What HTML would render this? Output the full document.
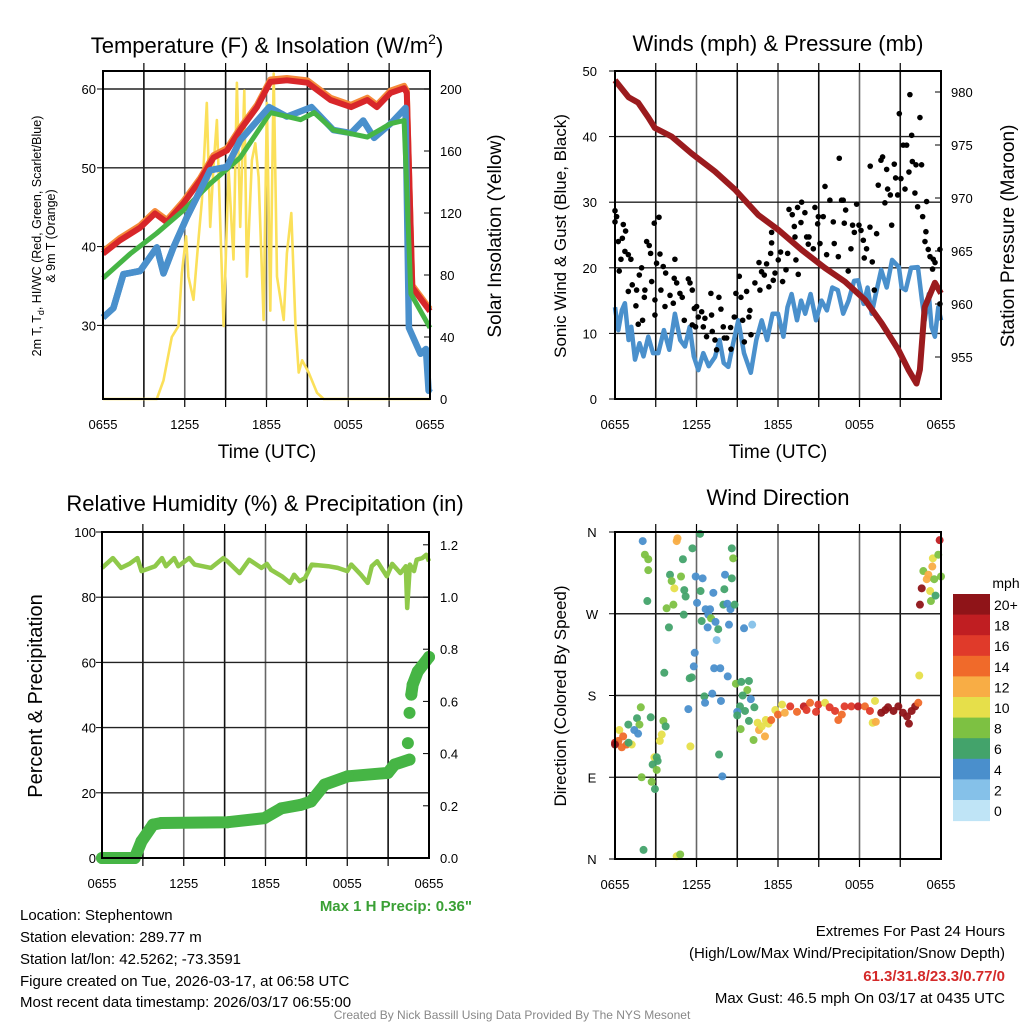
<!DOCTYPE html>
<html><head><meta charset="utf-8"><style>
html,body{margin:0;padding:0;background:#fff;}
svg{display:block;font-family:"Liberation Sans",Arial,sans-serif;}
</style></head><body>
<svg id="chart" width="1024" height="1024" viewBox="0 0 1024 1024" xmlns="http://www.w3.org/2000/svg">
<rect x="0" y="0" width="1024" height="1024" fill="#fff"/>
<g id="p1"></g>
<g id="p2"></g>
<g id="p3"></g>
<g id="p4"></g>
<g id="txt">
<text x="267" y="53" font-size="22" text-anchor="middle">Temperature (F) &amp; Insolation (W/m<tspan font-size="14" dy="-9">2</tspan><tspan dy="9">)</tspan></text>
<text x="778" y="51" font-size="22" text-anchor="middle">Winds (mph) &amp; Pressure (mb)</text>
<text x="265" y="511" font-size="22" text-anchor="middle">Relative Humidity (%) &amp; Precipitation (in)</text>
<text x="778" y="505" font-size="22" text-anchor="middle">Wind Direction</text>
<text x="267" y="458" font-size="19" text-anchor="middle">Time (UTC)</text>
<text x="778" y="458" font-size="19" text-anchor="middle">Time (UTC)</text>
<text transform="translate(41,236) rotate(-90)" font-size="12.5" text-anchor="middle">2m T, T<tspan font-size="9" dy="3">d</tspan><tspan dy="-3">, HI/WC (Red, Green, Scarlet/Blue)</tspan></text>
<text transform="translate(55,236) rotate(-90)" font-size="12.5" text-anchor="middle">&amp; 9m T (Orange)</text>
<text transform="translate(501,236) rotate(-90)" font-size="19" text-anchor="middle">Solar Insolation (Yellow)</text>
<text transform="translate(566,236) rotate(-90)" font-size="17" text-anchor="middle">Sonic Wind &amp; Gust (Blue, Black)</text>
<text transform="translate(1014,236) rotate(-90)" font-size="19" text-anchor="middle">Station Pressure (Maroon)</text>
<text transform="translate(42,696) rotate(-90)" font-size="20" text-anchor="middle">Percent &amp; Precipitation</text>
<text transform="translate(566,696) rotate(-90)" font-size="17" text-anchor="middle">Direction (Colored By Speed)</text>
<text x="472" y="911" font-size="15" font-weight="bold" fill="#3aa035" text-anchor="end">Max 1 H Precip: 0.36"</text>
<g font-size="15">
<text x="20" y="920">Location: Stephentown</text>
<text x="20" y="942">Station elevation: 289.77 m</text>
<text x="20" y="964">Station lat/lon: 42.5262; -73.3591</text>
<text x="20" y="986">Figure created on Tue, 2026-03-17, at 06:58 UTC</text>
<text x="20" y="1007">Most recent data timestamp: 2026/03/17 06:55:00</text>
</g>
<g font-size="15" text-anchor="end">
<text x="1005" y="936">Extremes For Past 24 Hours</text>
<text x="1005" y="958">(High/Low/Max Wind/Precipitation/Snow Depth)</text>
<text x="1005" y="981" font-weight="bold" fill="#d42a2a">61.3/31.8/23.3/0.77/0</text>
<text x="1005" y="1003">Max Gust: 46.5 mph On 03/17 at 0435 UTC</text>
</g>
<text x="512" y="1019" font-size="12" fill="#888" text-anchor="middle">Created By Nick Bassill Using Data Provided By The NYS Mesonet</text>
</g>
</svg>
<script>
// ---------- Panel 1 data ----------
const redH=[0,1.25,2.72,3.82,4.68,5.91,7.13,8.11,9.1,10.07,11.3,12.28,13.5,15,16.7,18.2,19.4,20.1,21.1,22.1,22.3,22.7,24];
const redV=[39.1,40.8,42.4,44.2,43.1,45.5,48.4,51.3,52.2,54.8,57.7,60.9,61.1,60.8,58.6,57.7,58.6,57.7,59.5,60.1,59.5,34.8,31.8];
const greenH=[0,2,3.95,5.9,7.87,10.07,12.28,14.5,15.5,16.9,19.4,21.1,22.1,22.6,24];
const greenV=[36.0,39.1,41.7,44.6,48,51.3,57,56.1,57,54.8,53.9,55.6,56,34,29.7];
const blueH=[0,0.76,1.5,2.72,3.95,4.44,5.17,6.15,7.87,9.1,10.07,12.2,13.5,15.3,16.9,18.2,19.1,19.9,21.1,22.2,22.45,23.3,23.7,23.9,24];
const blueV=[31,32.2,36.5,36.9,39.9,36.6,39.9,43.7,49.7,50.1,53.5,57.7,56.5,57.7,54.8,54.4,56,53.8,55.6,57.6,29.7,26.4,27,21.7,22];
const solH=[0,3.95,4.44,5.05,5.54,5.78,6.1,6.27,6.64,7.01,7.26,7.62,7.87,8.11,8.36,8.85,9.22,9.58,9.83,10.07,10.37,10.56,10.93,11.18,11.42,11.79,12.03,12.28,12.53,12.77,13.26,13.5,13.82,14.12,14.36,14.61,15.1,15.71,16.2,24];
const solV=[0,0,12,40,47,81,105,79,64,103,128,191,111,150,180,47,148,90,204,111,199,79,154,165,143,51,191,57,210,79,51,94,120,49,17,25,17,4,0,0];
const xTickLabels=["0655","1255","1855","0055","0655"];
const tempTicks=[60,50,40,30];
const solTicks=[200,160,120,80,40,0];
// ---------- Panel 2 data ----------
const presH=[0,1.0,1.7,2.45,2.94,4.17,5.64,7.36,8.83,10.55,12.02,13.74,15.46,16.93,18.4,19.63,20.86,21.6,22.2,22.45,22.8,23.55,24];
const presV=[981.1,979.5,979,977.6,976.6,975.8,974.2,972.5,970.8,968.4,967,965.1,963.4,962.1,960.4,958.2,955.7,953.8,952.5,953.8,959.7,962,961];
const windH=[0,0.24,0.5,0.73,1.0,1.2,1.47,1.8,2.1,2.45,2.8,3.19,3.6,4.0,4.41,4.8,5.15,5.5,5.8,6.13,6.5,6.9,7.36,7.7,8.0,8.34,8.7,9.08,9.5,10,10.4,10.8,11.2,11.6,12,12.4,12.7,13,13.4,13.7,14,14.4,14.8,15.2,15.6,16.0,16.4,16.8,17.2,17.6,17.9,18.3,18.6,18.9,19.2,19.6,20.0,20.4,20.9,21.1,21.4,21.8,22.3,22.6,22.8,23.1,23.3,23.55,23.8,24];
const windV=[14,10.5,13.5,14.6,9,11,6,8.5,6.5,9.5,7,7,10.5,7.5,13,9,8,11,6.5,4.4,7,5,6.4,9,5.5,4.9,8.5,12,7,4,9,12,9,13,13,9.5,14,16,12,15,13,16,12,15,13.5,17,16.6,13,15,18,18.1,14.5,17,13,16,19.7,17,21.2,20.1,17,16.6,20,20.1,15,12,16,11,9.5,14,12];
const gustH=[0,0.12,0.0,0.61,0.78,0.24,0.54,0.73,0.98,0.44,1.17,0.31,1.79,1.96,1.27,0.98,1.59,1.54,1.71,2.03,2.2,2.16,2.7,2.33,2.52,2.89,3.24,2.62,3.31,3.06,3.55,3.73,3.38,2.94,2.94,3.68,4.05,4.29,4.41,4.36,4.54,4.78,4.95,5.1,5.4,5.52,5.69,5.84,6.01,5.69,5.93,6.13,6.5,6.38,6.62,6.74,7.06,7.11,7.16,7.36,7.48,7.65,7.8,7.97,8.05,8.22,8.51,8.54,8.78,8.9,9.15,9.27,9.4,9.52,9.69,9.86,10.01,9.93,10.3,10.6,10.67,10.79,10.99,11.16,11.33,11.53,11.46,11.53,11.65,11.78,12.02,12.19,12.34,12.59,12.71,12.81,13.05,13.2,13.25,13.32,13.49,13.44,13.69,13.74,13.98,14.11,14.23,14.28,14.6,14.72,14.92,14.97,15.09,15.33,15.46,15.58,15.82,16.07,16.14,16.44,16.51,16.68,16.8,16.88,16.98,17.17,17.37,17.49,17.62,17.79,17.96,18.11,18.28,18.35,18.52,18.77,18.79,18.94,19.09,19.26,19.38,19.58,19.7,19.87,20,20.07,20.27,20.37,20.56,20.66,20.81,20.93,21.05,21.22,21.35,21.47,21.64,21.71,21.84,21.89,22.08,22.16,22.28,22.45,22.57,22.65,22.89,22.94,22.82,23.06,23.19,23.43,23.56,23.38,23.92,23.92];
const gustV=[28.7,27.8,27,26.6,25.6,24,24.5,22.5,22,21.3,21.3,19.5,18.9,20,17.4,16.4,16.6,14.2,11.4,12,16.6,15.5,17.9,24,23.4,26.8,27.7,22.2,22.1,20.7,20.2,19.2,16.6,15.1,12.8,14.1,15.8,14.6,21.3,18.4,17.7,16.1,15.5,12,18.3,17.7,16.6,13.8,14.1,11.3,11,12.5,11,13.3,12.3,9.5,16.1,12.8,10.3,9,7.5,15.5,13.7,11,9.3,9.3,10.9,7.6,12.5,16.1,18.7,15.5,12,8.7,16.4,12.5,9.8,13.5,17.7,20.8,16.6,19.4,18.9,20.6,17.1,23.8,22.2,25.4,18.1,19.2,21.2,22.4,17.9,19.7,22.2,28.9,28.1,26.3,24.7,21.2,19,29.2,26.9,30,28.4,24.7,23.6,24.7,22.9,29.2,26.7,27.8,23.7,27.8,32.4,22,30.3,27,23.7,21.7,36.7,30.3,30.3,26.8,28.8,19.5,22.9,26.5,25.4,29.7,26.5,25.7,24.2,21.5,22.9,26.2,35.5,20.9,16.6,25.2,32.6,36.4,36.9,29.9,35,32,31.1,26.5,35.8,33.7,31.1,43.5,33.6,38.7,32,38.7,34.6,46.4,40.2,36.2,31.4,35.7,29.3,42.9,35.7,27.8,25.5,30.1,24,22.8,21.7,21.3,20.8,19.8,22.8,14.5];
const windTicks=[50,40,30,20,10,0];
const presTicks=[980,975,970,965,960,955];
// ---------- Panel 3 data ----------
const rhH=[0,0.8,1.4,2,2.6,2.9,3.9,4.4,4.7,5.3,5.6,6.4,6.8,8,8.9,9.2,10.1,10.8,11.7,12.1,12.4,13.2,13.8,14.1,14.5,14.9,15.4,16.6,17.3,18,18.3,19,19.5,19.8,20.2,20.9,21.3,21.9,22.3,22.4,22.6,22.9,23.1,23.5,23.8,24];
const rhV=[89,92,89,90.2,92,88,89.5,92,89.5,92,89.5,92,90,89,92,91,87.4,91.5,89,90.2,88.4,86.4,84.4,86.9,84.9,85.9,90,89.5,89,88,90,86.9,84.4,89.5,91,86.4,90.2,87.4,89.5,76.7,90,88,91.5,92,93,91];
const prH=[0,2.4,2.9,3.74,4.35,9.24,11.93,13.15,14.6,15.35,16.33,18.04,20.98,21.47,22.57,22.45,22.57,22.7,22.8,23.18,24];
const prV=[0,0,0.064,0.128,0.134,0.137,0.153,0.19,0.204,0.217,0.281,0.313,0.326,0.358,0.377,0.44,0.556,0.626,0.664,0.715,0.77];
const pctTicks=[100,80,60,40,20,0];
const prTicks=["1.2","1.0","0.8","0.6","0.4","0.2","0.0"];
// ---------- Panel 4 data ----------
const dirH=[2.04,4.6,4.54,6.26,2.2,2.45,2.45,5.7,8.6,8.7,5.0,4.05,4.17,4.37,4.86,5.94,6.45,8.1,8.6,8.05,5.1,5.2,6.3,7.24,2.38,3.8,4.3,6.04,6.67,7.0,7.98,8.27,8.5,8.8,5.06,6.87,7.07,6.38,7.4,6.82,7.6,8.39,9.5,10.1,7.48,3.97,5.87,5.8,7.3,7.75,8.3,3.63,5.5,5.65,8.9,9.3,9.86,9.74,9.4,10,6.58,7.16,6.63,7.8,5.4,9.2,9.57,10.26,1.9,2.63,1.62,0.98,1.8,1.42,1.7,0.32,3.56,3.73,3.44,3.3,0,0.25,0.6,0.86,0.5,1.23,1.0,0,5.55,2.9,3.07,2.77,3.14,3.07,1.96,2.7,2.94,7.66,7.9,9.0,9.0,9.25,9.86,10.2,10.5,10.6,11.04,10.8,11.1,11.3,11.5,11.8,12.0,12.3,12.5,12.9,13.4,13.9,14.1,14.36,14.8,14.97,15.46,15.8,16.2,16.44,16.7,16.9,17.4,17.9,18.4,18.77,19.14,18.97,19.2,19.6,19.9,20.1,20.5,20.86,21.2,21.5,21.64,21.84,22.1,22.33,22.4,22.45,22.58,22.7,22.95,23.07,23.2,23.26,23.36,23.4,23.6,23.5,23.8,23.9,24,2.1,4.54,4.8];
const dirV=[350,353,350,358,335,330,318,342,342,331,330,313,306,298,311,311,309,313,309,297,296,289,295,293,284,276,280,282,275,275,280,281,275,280,269,269,265,262,261,255,253,258,254,258,241,255,227,212,210,210,201,205,199,200,193,195,196,186,180,176,179,182,172,174,165,168,163,167,167,156,155,148,148,142,138,142,152,146,137,130,128,130,135,126,123,126,128,126,124,112,112,104,108,98,90,85,77,115,91,162,158,143,152,131,150,142,135,146,153,149,153,164,159,170,161,168,162,168,164,172,162,170,172,167,163,153,159,168,168,168,168,163,174,150,151,161,164,167,163,168,161,157,149,163,168,172,202,280,298,317,308,313,295,284,322,331,290,308,335,351,311,10,3,5];
const dirSpd=[4,12,12,6,8,8,8,6,6,8,6,6,8,10,8,4,4,4,6,6,6,6,6,4,6,8,8,4,4,4,6,4,4,6,6,4,8,6,4,4,6,4,4,2,2,6,4,4,4,4,4,6,6,6,8,6,6,8,6,4,6,4,4,4,4,6,6,6,8,6,6,6,8,4,4,10,8,6,10,10,18,14,14,14,14,10,6,20,10,10,6,6,6,8,8,8,6,6,4,4,6,8,6,8,10,12,12,10,10,10,14,10,14,10,12,16,14,18,16,14,16,16,10,16,16,14,14,16,16,18,14,16,10,10,12,20,20,20,20,20,20,20,20,20,20,14,10,20,20,8,12,12,10,8,12,10,6,8,8,18,8,6,10,8];
const legendLabels=["20+","18","16","14","12","10","8","6","4","2","0"];
const dirTickLabels=["N","W","S","E","N"];

const NS="http://www.w3.org/2000/svg";
function mk(parent,tag,attrs){const e=document.createElementNS(NS,tag);for(const k in attrs)e.setAttribute(k,attrs[k]);parent.appendChild(e);return e;}
function spdColor(s){const c=["#bfe4f6","#85c1e9","#4a8fcc","#43a36b","#7dc142","#e6df4a","#f8ad45","#f06a2a","#e03a2a","#c01e22","#8f1418"];let i=Math.round(s/2);if(i<0)i=0;if(i>10)i=10;return c[i];}
function pathFrom(H,V,xf,yf){let d="";for(let i=0;i<H.length;i++){d+=(i?"L":"M")+xf(H[i]).toFixed(1)+","+yf(V[i]).toFixed(1);}return d;}

function frame(g,x0,x1,y0,y1,hy,name){
  const step=(x1-x0)/8;
  for(let i=1;i<8;i++){const x=x0+i*step;
    const l=mk(g,"line",{x1:x,x2:x,y1:y0,y2:y1,stroke:(i%2?"#111":"#666"),"stroke-width":1.6});
    
    
    mk(g,"line",{x1:x,x2:x,y1:y0-8,y2:y0,stroke:"#000","stroke-width":1.2});
    mk(g,"line",{x1:x,x2:x,y1:y1,y2:y1+8,stroke:"#000","stroke-width":1.2});
  }
  hy.forEach(y=>{const l=mk(g,"line",{x1:x0,x2:x1,y1:y,y2:y,stroke:"#222","stroke-width":1.4});
    
    });
  xTickLabels.forEach((t,i)=>{const tx=mk(g,"text",{x:x0+i*step*2,y:y1+30,"font-size":13,"text-anchor":"middle"});tx.textContent=t;
    
    });
}
function box(g,x0,x1,y0,y1){const r=mk(g,"rect",{x:x0,y:y0,width:x1-x0,height:y1-y0,fill:"none",stroke:"#000","stroke-width":2});
  
  }
function label(g,x,y,t,anchor,name,size){const e=mk(g,"text",{x:x,y:y,"font-size":size||13,"text-anchor":anchor});e.textContent=t;
  
  return e;}

// ---------- Panel 1 ----------
(function(){
  const g=document.getElementById("p1");const x0=103,x1=430,y0=71,y1=399;
  const X=h=>x0+h*(x1-x0)/24, TY=v=>89+(60-v)*7.88, SY=v=>399-v*1.55;
  frame(g,x0,x1,y0,y1,tempTicks.map(TY),"t");
  tempTicks.forEach(v=>{label(g,96,TY(v)+5,String(v),"end","temp-tick-label");mk(g,"line",{x1:x0-6,x2:x0,y1:TY(v),y2:TY(v),stroke:"#000"});});
  solTicks.forEach(v=>{label(g,440,SY(v)+5,String(v),"start","insolation-tick-label");mk(g,"line",{x1:x1-6,x2:x1,y1:SY(v),y2:SY(v),stroke:"#000"});});
  const s=mk(g,"path",{d:pathFrom(solH,solV,X,SY),fill:"none",stroke:"#fbe05a","stroke-width":2.6,"stroke-linejoin":"round"});
  
  
  const o=mk(g,"path",{d:pathFrom(redH,redV.map(v=>v+0.3),X,TY),fill:"none",stroke:"#f58a3a","stroke-width":6,"stroke-linejoin":"round"});
  
  
  const r=mk(g,"path",{d:pathFrom(redH,redV,X,TY),fill:"none",stroke:"#d8262a","stroke-width":6,"stroke-linejoin":"round"});
  
  
  const b=mk(g,"path",{d:pathFrom(blueH,blueV,X,TY),fill:"none",stroke:"#4a90cc","stroke-width":6.5,"stroke-linejoin":"round"});
  
  
  const gr=mk(g,"path",{d:pathFrom(greenH,greenV,X,TY),fill:"none",stroke:"#46b545","stroke-width":5,"stroke-linejoin":"round"});
  
  
  const b2=mk(g,"path",{d:pathFrom(blueH.slice(0,12),blueV.slice(0,12),X,TY),fill:"none",stroke:"#4a90cc","stroke-width":6.5,"stroke-linejoin":"round"});
  
  
  box(g,x0,x1,y0,y1);
})();

// ---------- Panel 2 ----------
(function(){
  const g=document.getElementById("p2");const x0=615,x1=941,y0=71,y1=399;
  const X=h=>x0+h*(x1-x0)/24, WY=v=>399-v*6.56, PY=p=>92+(980-p)*10.6;
  frame(g,x0,x1,y0,y1,[40,30,20,10].map(WY),"w");
  windTicks.forEach(v=>{label(g,597,WY(v)+5,String(v),"end","wind-tick-label");mk(g,"line",{x1:x0-6,x2:x0,y1:WY(v),y2:WY(v),stroke:"#000"});});
  presTicks.forEach(v=>{label(g,951,PY(v)+5,String(v),"start","pressure-tick-label");mk(g,"line",{x1:x1-6,x2:x1,y1:PY(v),y2:PY(v),stroke:"#000"});});
  const w=mk(g,"path",{d:pathFrom(windH,windV,X,WY),fill:"none",stroke:"#4a90cc","stroke-width":4.5,"stroke-linejoin":"round"});
  
  
  const p=mk(g,"path",{d:pathFrom(presH,presV,X,PY),fill:"none",stroke:"#9b1b1e","stroke-width":6,"stroke-linejoin":"round"});
  
  
  for(let i=0;i<gustH.length;i++){
    const c=mk(g,"circle",{cx:X(gustH[i]),cy:WY(gustV[i]),r:2.8,fill:"#000"});
    
    
  }
  box(g,x0,x1,y0,y1);
})();

// ---------- Panel 3 ----------
(function(){
  const g=document.getElementById("p3");const x0=102,x1=429,y0=532,y1=858;
  const X=h=>x0+h*(x1-x0)/24, RY=v=>858-v*3.26, PRY=v=>858-v*261;
  frame(g,x0,x1,y0,y1,[80,60,40,20].map(RY),"rh");
  pctTicks.forEach(v=>{label(g,96,RY(v)+5,String(v),"end","percent-tick-label");mk(g,"line",{x1:x0-6,x2:x0,y1:RY(v),y2:RY(v),stroke:"#000"});});
  prTicks.forEach(t=>{const v=parseFloat(t);label(g,440,PRY(v)+5,t,"start","precip-tick-label");mk(g,"line",{x1:x1-6,x2:x1,y1:PRY(v),y2:PRY(v),stroke:"#000"});});
  const rh=mk(g,"path",{d:pathFrom(rhH,rhV,X,RY),fill:"none",stroke:"#8fc94a","stroke-width":4.5,"stroke-linejoin":"round"});
  
  
  let seg=[[0]];
  for(let i=1;i<prH.length;i++){
    const dv=Math.abs(prV[i]-prV[i-1]), dt=Math.abs(prH[i]-prH[i-1]);
    if(dv>0.05 && dt<0.2) seg.push([i]); else seg[seg.length-1].push(i);
  }
  seg.forEach(s=>{if(s.length>1){const pp=mk(g,"path",{d:pathFrom(s.map(i=>prH[i]),s.map(i=>prV[i]),X,PRY),fill:"none",stroke:"#46b545","stroke-width":12,"stroke-linejoin":"round","stroke-linecap":"round"});
    
    }});
  for(let i=0;i<prH.length;i++){const c=mk(g,"circle",{cx:X(prH[i]),cy:PRY(prV[i]),r:6,fill:"#46b545"});
    
    }
  box(g,x0,x1,y0,y1);
})();

// ---------- Panel 4 ----------
(function(){
  const g=document.getElementById("p4");const x0=615,x1=941,y0=532,y1=859;
  const X=h=>x0+h*(x1-x0)/24, DY=d=>859-d*(y1-y0)/360;
  frame(g,x0,x1,y0,y1,[270,180,90].map(DY),"d");
  dirTickLabels.forEach((t,i)=>{const d=360-i*90;label(g,592,DY(d)+5,t,"middle","direction-tick-label");mk(g,"line",{x1:x0-6,x2:x0,y1:DY(d),y2:DY(d),stroke:"#000"});});
  for(let i=0;i<dirH.length;i++){
    const c=mk(g,"circle",{cx:X(dirH[i]),cy:DY(dirV[i]),r:4,fill:spdColor(dirSpd[i]),"fill-opacity":0.95});
    
    
  }
  box(g,x0,x1,y0,y1);
  const lg=mk(g,"g",{});
  
  
  label(lg,1006,588,"mph","middle","legend-title",14);
  const top=594,hgt=20.6;
  legendLabels.forEach((t,i)=>{
    const r=mk(lg,"rect",{x:953,y:top+i*hgt,width:37,height:hgt+0.5,fill:spdColor(20-2*i)});
    
    
    label(lg,994,top+i*hgt+16,t,"start","legend-label",14);
  });
})();
</script>
</body></html>
